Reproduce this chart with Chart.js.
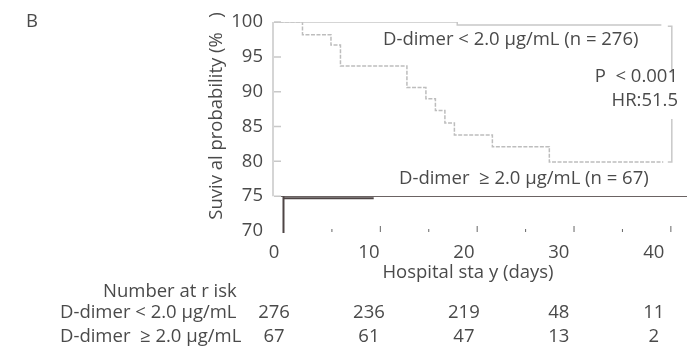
<!DOCTYPE html>
<html>
<head>
<meta charset="utf-8">
<script src="https://cdn.jsdelivr.net/npm/chart.js@4"></script>
<style>
  body { margin: 0; background: #fff; }
</style>
</head>
<body>
<canvas id="kmChart" width="687" height="346"></canvas>
<script>
// Kaplan-Meier curves
const lowDays = [0, 19.3, 40.8];
const lowSurvival = [100, 99.6, 99.6];
const highDays = [0, 3, 6, 7, 14, 16, 17, 18, 19, 23, 29, 41];
const highSurvival = [100, 98.2, 96.7, 93.7, 90.6, 89.0, 87.3, 85.5, 83.8, 82.1, 79.9, 79.9];

// Axis ticks
const xTicks = [0, 10, 20, 30, 40];
const yTicks = [70, 75, 80, 85, 90, 95, 100];

// Number at risk table
const riskDays = [0, 10, 20, 30, 40];
const riskLow = [276, 236, 219, 48, 11];
const riskHigh = [67, 61, 47, 13, 2];

const textColor = "#4a4a4a";
const fontFam = '"Open Sans", sans-serif';
const fontSize = 18.5;

const lowData = lowDays.map((d, i) => ({ x: d, y: lowSurvival[i] }));
const highData = highDays.map((d, i) => ({ x: d, y: highSurvival[i] }));

// Extra drawing: axis pieces, bracket, annotations, risk table
const extras = {
  id: "extras",
  afterDraw(chart) {
    const ctx = chart.ctx;
    const xs = chart.scales.x;
    const ys = chart.scales.y;
    const px = (v) => xs.getPixelForValue(v);
    const py = (v) => ys.getPixelForValue(v);
    const left = chart.chartArea.left;

    ctx.save();
    //Light left axis from 100 down to 75 with small inner ticks
    ctx.strokeStyle = "#c8c8c8";
    ctx.lineWidth = 1.5;
    ctx.beginPath();
    ctx.moveTo(left - 1, py(100));
    ctx.lineTo(left - 1, py(75));
    yTicks.filter((v) => v >= 75).forEach((v) => {
      ctx.moveTo(left, py(v));
      ctx.lineTo(left + 7, py(v));
    });
    ctx.stroke();

    //Dark stub below the 75 line
    ctx.strokeStyle = "#4e4545";
    ctx.lineWidth = 2;
    ctx.beginPath();
    ctx.moveTo(px(1), py(75));
    ctx.lineTo(px(1), py(70) + 2);
    ctx.moveTo(px(1), py(74.7));
    ctx.lineTo(px(10.5), py(74.7));
    ctx.stroke();

    //Tick marks along the bottom (minor and major), drawn slightly offset as in source
    ctx.strokeStyle = "#666";
    ctx.lineWidth = 1;
    ctx.beginPath();
    for (let k = 1; k <= 8; k++) {
      const x = px(1 + 5.1 * k);
      const len = k % 2 === 0 ? 6 : 3;
      ctx.moveTo(x, py(70) + 1);
      ctx.lineTo(x, py(70) + 1 - len);
    }
    ctx.stroke();

    //Bracket next to the p value
    ctx.strokeStyle = "#c8c8c8";
    ctx.lineWidth = 1.5;
    const bx = px(41.9);
    ctx.beginPath();
    ctx.moveTo(bx - 4, py(99.4));
    ctx.lineTo(bx, py(99.4));
    ctx.lineTo(bx, py(92.7));
    ctx.moveTo(bx, py(86.1));
    ctx.lineTo(bx, py(79.9));
    ctx.lineTo(bx - 4, py(79.9));
    ctx.stroke();

    ctx.fillStyle = textColor;
    ctx.font = fontSize + "px " + fontFam;
    ctx.textBaseline = "middle";

    //Curve labels
    ctx.textAlign = "left";
    ctx.fillText("D-dimer < 2.0 µg/mL (n = 276)", 383, 40);
    ctx.fillText("D-dimer  ≥ 2.0 µg/mL (n = 67)", 399, 179);
    ctx.textAlign = "right";
    ctx.fillText("P  < 0.001", 678, 77);
    ctx.fillText("HR:51.5", 678, 101);

    //Axis titles and panel letter
    ctx.textAlign = "center";
    ctx.fillText("Hospital sta y (days)", 468, 273);
    ctx.save();
    ctx.translate(217, 116);
    ctx.rotate(-Math.PI / 2);
    ctx.fillText("Suviv al probability (%   )", 0, 0);
    ctx.restore();
    ctx.textAlign = "left";
    ctx.fillText("B", 26, 22);

    //Number at risk table
    ctx.fillText("Number at r isk", 103, 292);
    ctx.fillText("D-dimer < 2.0 µg/mL", 60, 313);
    ctx.fillText("D-dimer  ≥ 2.0 µg/mL", 60, 337);
    ctx.textAlign = "center";
    riskDays.forEach((d, i) => {
      ctx.fillText(String(riskLow[i]), px(d), 313);
      ctx.fillText(String(riskHigh[i]), px(d), 337);
    });
    ctx.restore();
  },
};

const ctx = document.getElementById("kmChart").getContext("2d");
new Chart(ctx, {
  type: "line",
  data: {
    datasets: [
      {
        label: "D-dimer < 2.0",
        data: lowData,
        borderColor: "#c8c8c8",
        borderWidth: 1.5,
        stepped: true,
        pointRadius: 0,
        fill: false,
      },
      {
        label: "D-dimer >= 2.0",
        data: highData,
        borderColor: "#bdbdbd",
        borderWidth: 1.5,
        borderDash: [4, 1.5],
        stepped: true,
        pointRadius: 0,
        fill: false,
      },
    ],
  },
  options: {
    responsive: false,
    animation: false,
    devicePixelRatio: 1,
    layout: { padding: { top: 18, right: 0, left: 0, bottom: 0 } },
    plugins: {
      legend: { display: false },
      tooltip: { enabled: false },
    },
    scales: {
      x: {
        type: "linear",
        min: 0,
        max: 43.5,
        afterBuildTicks: (scale) => {
          scale.ticks = xTicks.map((v) => ({ value: v }));
        },
        afterFit: (scale) => {
          scale.height = 115;
        },
        grid: { display: false, drawTicks: false },
        border: { display: false },
        ticks: {
          color: textColor,
          font: { size: fontSize, family: fontFam },
          padding: 11,
          maxRotation: 0,
        },
      },
      y: {
        min: 70,
        max: 100,
        afterBuildTicks: (scale) => {
          scale.ticks = yTicks.map((v) => ({ value: v }));
        },
        afterFit: (scale) => {
          scale.width = 274;
        },
        grid: {
          drawTicks: false,
          color: (c) => (c.tick && c.tick.value === 75 ? "#6b6363" : "rgba(0,0,0,0)"),
          lineWidth: 1,
        },
        border: { display: false },
        ticks: {
          color: textColor,
          font: { size: fontSize, family: fontFam },
          padding: 11,
        },
      },
    },
  },
  plugins: [extras],
});
</script>
</body>
</html>
